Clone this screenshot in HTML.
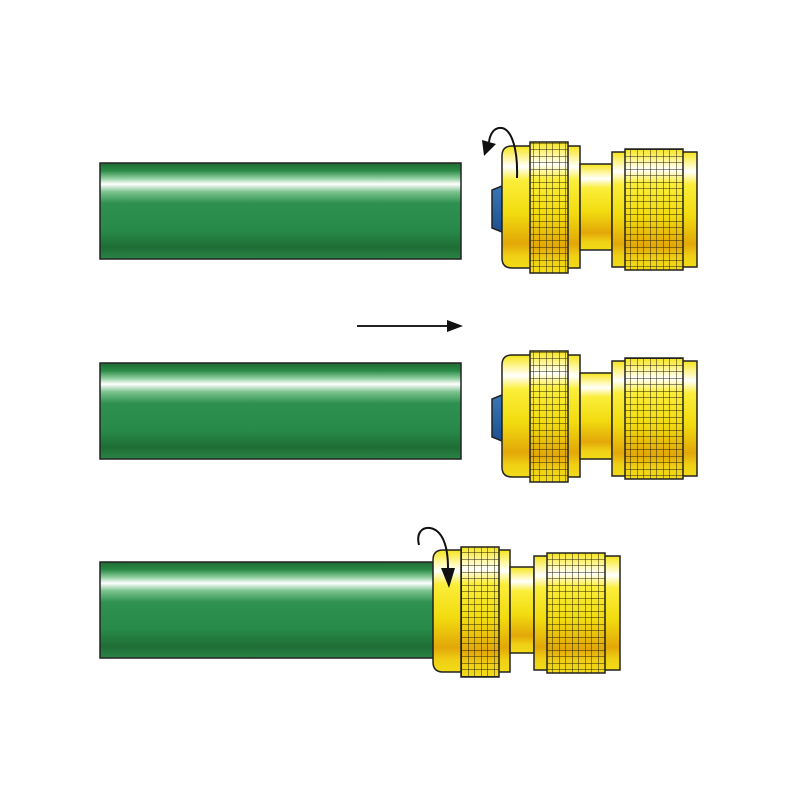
<!DOCTYPE html>
<html><head><meta charset="utf-8"><style>html,body{margin:0;padding:0;background:#fff}svg{display:block}</style></head>
<body>
<svg width="800" height="800" viewBox="0 0 800 800" xmlns="http://www.w3.org/2000/svg">
<defs>
<linearGradient id="hose" x1="0" y1="0" x2="0" y2="1">
<stop offset="0" stop-color="#1f6b35"/>
<stop offset="0.08" stop-color="#2a8a45"/>
<stop offset="0.16" stop-color="#8fcf9f"/>
<stop offset="0.22" stop-color="#ffffff"/>
<stop offset="0.3" stop-color="#7cc48f"/>
<stop offset="0.42" stop-color="#2e9150"/>
<stop offset="0.7" stop-color="#288a48"/>
<stop offset="0.88" stop-color="#1e6d36"/>
<stop offset="1" stop-color="#2a8444"/>
</linearGradient>
<linearGradient id="yel" x1="0" y1="0" x2="0" y2="1">
<stop offset="0" stop-color="#f5e41a"/>
<stop offset="0.1" stop-color="#fff7a0"/>
<stop offset="0.17" stop-color="#ffffff"/>
<stop offset="0.28" stop-color="#fbee3a"/>
<stop offset="0.55" stop-color="#f2dc10"/>
<stop offset="0.8" stop-color="#e2a708"/>
<stop offset="0.9" stop-color="#efcf14"/>
<stop offset="1" stop-color="#f2dc18"/>
</linearGradient>
<linearGradient id="blue" x1="0" y1="0" x2="0" y2="1">
<stop offset="0" stop-color="#3a78b8"/><stop offset="1" stop-color="#1d4f8f"/>
</linearGradient>
<pattern id="grid" width="6.5" height="6.5" patternUnits="userSpaceOnUse">
<path d="M0 0H6.5M0 0V6.5" stroke="#2a2208" stroke-width="1" fill="none"/>
</pattern>
<g id="conn">
<path d="M502 186 L492 190 L492 228 L502 232 Z" fill="url(#blue)" stroke="#222" stroke-width="1.5"/>
<path d="M512 146 H580 V268 H512 Q502 268 502 258 V156 Q502 146 512 146 Z" fill="url(#yel)" stroke="#222" stroke-width="1.5"/>
<rect x="580" y="164" width="32" height="86" fill="url(#yel)" stroke="#222" stroke-width="1.5"/>
<rect x="612" y="152" width="85" height="115" fill="url(#yel)" stroke="#222" stroke-width="1.5"/>
<rect x="530" y="142" width="38" height="131" fill="url(#yel)"/>
<rect x="530" y="142" width="38" height="131" fill="url(#grid)"/>
<rect x="530" y="142" width="38" height="131" fill="none" stroke="#222" stroke-width="1.5"/>
<rect x="625" y="149" width="58" height="121" fill="url(#yel)"/>
<rect x="625" y="149" width="58" height="121" fill="url(#grid)"/>
<rect x="625" y="149" width="58" height="121" fill="none" stroke="#222" stroke-width="1.5"/>
</g>
</defs>
<rect x="100" y="163" width="361" height="96" fill="url(#hose)" stroke="#222" stroke-width="1.5"/>
<rect x="100" y="363" width="361" height="96" fill="url(#hose)" stroke="#222" stroke-width="1.5"/>
<rect x="100" y="562" width="345" height="96" fill="url(#hose)" stroke="#222" stroke-width="1.5"/>

<use href="#conn"/>
<use href="#conn" transform="translate(0,209)"/>

<!-- third connector (on hose) -->
<g>
<path d="M443 550 H510 V672 H443 Q433 672 433 662 V560 Q433 550 443 550 Z" fill="url(#yel)" stroke="#222" stroke-width="1.5"/>
<rect x="510" y="567" width="24" height="86" fill="url(#yel)" stroke="#222" stroke-width="1.5"/>
<rect x="534" y="556" width="86" height="114" fill="url(#yel)" stroke="#222" stroke-width="1.5"/>
<rect x="461" y="547" width="38" height="130" fill="url(#yel)"/>
<rect x="461" y="547" width="38" height="130" fill="url(#grid)"/>
<rect x="461" y="547" width="38" height="130" fill="none" stroke="#222" stroke-width="1.5"/>
<rect x="547" y="553" width="58" height="120" fill="url(#yel)"/>
<rect x="547" y="553" width="58" height="120" fill="url(#grid)"/>
<rect x="547" y="553" width="58" height="120" fill="none" stroke="#222" stroke-width="1.5"/>
</g>

<!-- rotate arrow 1 -->
<path d="M517 178 C518 150 512 130 502 128 C494 127 490 134 489 142" fill="none" stroke="#111" stroke-width="2"/>
<path d="M482 140 L496 144 L484 156 Z" fill="#111"/>
<!-- rotate arrow 3 -->
<path d="M419 545 C416 533 422 527 430 528 C442 530 448 545 448 568" fill="none" stroke="#111" stroke-width="2"/>
<path d="M441 568 L455 568 L449 588 Z" fill="#111"/>
<!-- straight arrow -->
<line x1="357" y1="326" x2="450" y2="326" stroke="#222" stroke-width="2"/>
<path d="M447 320 L463 326 L447 332 Z" fill="#111"/>
</svg>
</body></html>
